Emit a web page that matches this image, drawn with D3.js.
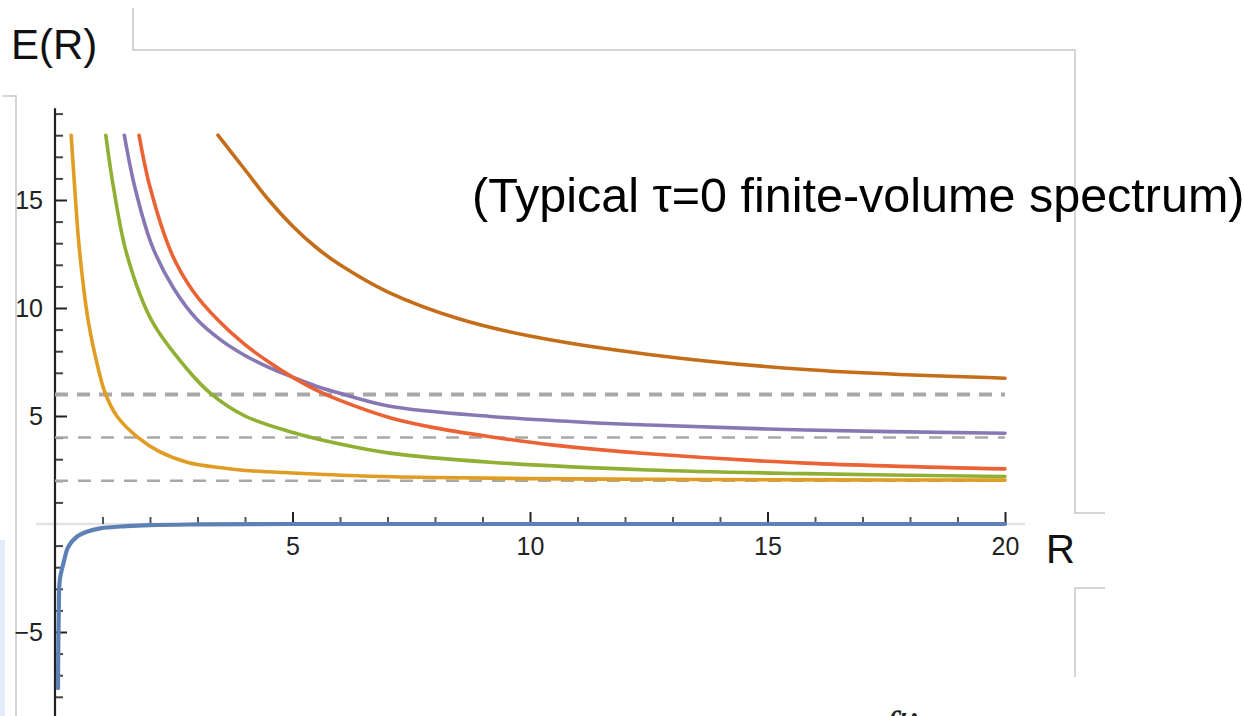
<!DOCTYPE html>
<html>
<head>
<meta charset="utf-8">
<script src="https://cdn.jsdelivr.net/npm/d3@7"></script>
<style>
  body { margin: 0; background: #fff; }
  svg { display: block; }
</style>
</head>
<body>
<svg></svg>
<script>
var screen = {width: 1244, height: 716};

// energy levels E(R) as [R, E]
var level0 = [[0.063,-7.6],[0.07,-5.5],[0.08,-4.1],[0.1,-2.6],[0.18,-1.8],[0.28,-1.05],[0.46,-0.59],[0.67,-0.36],[0.95,-0.2],[1.5,-0.1],[2,-0.05],[3,-0.02],[5,0],[10,0],[20,0]];
var level1 = [[0.34,18],[0.42,15.4],[0.51,12.8],[0.7,9.4],[0.91,7.2],[1.05,6.1],[1.3,5],[1.75,4],[2.2,3.35],[2.8,2.85],[3.5,2.6],[4,2.48],[5,2.36],[6.5,2.22],[8,2.15],[10,2.1],[12.5,2.07],[15,2.05],[17.5,2.04],[20,2.03]];
var level2 = [[1.07,18],[1.23,15.6],[1.51,12.5],[2.04,9.4],[2.77,7.2],[3.3,6],[4,5],[4.95,4.27],[6,3.7],[7.05,3.28],[9.16,2.86],[12.5,2.5],[15.8,2.33],[20,2.2]];
var level3 = [[1.46,18],[1.68,15.6],[2.04,12.9],[2.5,10.9],[3,9.44],[3.5,8.5],[4,7.8],[4.5,7.25],[5,6.8],[5.5,6.38],[6,6.05],[7.05,5.45],[9.16,4.98],[11.3,4.69],[12.5,4.58],[15.8,4.35],[20,4.2]];
var level4 = [[1.77,18],[2,15.6],[2.46,12.5],[2.9,10.8],[3.43,9.44],[4,8.3],[4.5,7.5],[5,6.8],[5.5,6.2],[6,5.72],[7.05,4.92],[8,4.45],[9.16,4.04],[10.5,3.65],[12.5,3.25],[15.8,2.82],[20,2.55]];
var level5 = [[3.43,18],[4,16.4],[4.5,15],[5,13.8],[5.5,12.8],[6,12],[7,10.75],[8.5,9.5],[10,8.7],[12.5,7.85],[15.8,7.15],[20,6.75]];

var levels = [level0, level1, level2, level3, level4, level5];
var levelColors = ["#5E81B5", "#E19C24", "#8FB032", "#8778B3", "#EB6235", "#C56E1A"];

// thresholds drawn dashed
var thresholds = [2, 4, 6];

var xMajor = [5, 10, 15, 20];
var xMinor = [1,2,3,4,6,7,8,9,11,12,13,14,16,17,18,19];
var yMajor = [-5, 5, 10, 15];
var yMinor = [-8,-7,-6,-4,-3,-2,-1,1,2,3,4,6,7,8,9,11,12,13,14,16,17,18,19];

var titleText = "(Typical \u03c4=0 finite-volume spectrum)";

var svg = d3.select("svg")
    .attr("width", screen.width)
    .attr("height", screen.height)

var xScale = d3.scaleLinear().domain([0, 20]).range([55, 1005]);
var yScale = d3.scaleLinear().domain([0, 15]).range([524, 200]);

// slide frame leftovers
var frame = svg.append("g")
    .attr("fill", "none")
    .attr("stroke", "#c8c8c8")
    .attr("stroke-width", 1.5)
frame.append("polyline").attr("points", "133,8 133,50 1075,50 1075,513 1105,513")
frame.append("polyline").attr("points", "1105,588 1075,588 1075,677")
frame.append("polyline").attr("points", "3,96 16,96 16,716")
svg.append("rect")
    .attr("x", 0).attr("y", 540).attr("width", 5).attr("height", 176)
    .attr("fill", "#e3ecf8")

// zero line
svg.append("line")
    .attr("x1", 36).attr("x2", 1025)
    .attr("y1", yScale(0)).attr("y2", yScale(0))
    .attr("stroke", "#e2e2e2")
    .attr("stroke-width", 2.5)

// x axis ticks (pointing up)
var xAxisMinor = d3.axisBottom(xScale).tickValues(xMinor).tickSize(-7).tickFormat("")
var xAxisMajor = d3.axisBottom(xScale).tickValues(xMajor).tickSize(-12).tickPadding(13)

svg.append("g")
    .attr("transform", "translate(0," + yScale(0) + ")")
    .call(xAxisMinor)
    .call(function(g) { g.select(".domain").remove() })
    .selectAll("line").attr("stroke", "#555").attr("stroke-width", 2)

var gx = svg.append("g")
    .attr("transform", "translate(0," + yScale(0) + ")")
    .call(xAxisMajor)
gx.select(".domain").remove()
gx.selectAll("line").attr("stroke", "#222").attr("stroke-width", 2)
gx.selectAll("text")
    .attr("fill", "#222")
    .style("font-family", "'Liberation Sans', Arial, sans-serif")
    .style("font-size", "25px")

// y axis, ticks pointing right, labels left
var yAxisMinor = d3.axisLeft(yScale).tickValues(yMinor).tickSize(-8).tickFormat("")
var yAxisMajor = d3.axisLeft(yScale).tickValues(yMajor).tickSize(-12).tickPadding(12)

svg.append("g")
    .attr("transform", "translate(" + xScale(0) + ",0)")
    .call(yAxisMinor)
    .call(function(g) { g.select(".domain").remove() })
    .selectAll("line").attr("stroke", "#444").attr("stroke-width", 2)

var gy = svg.append("g")
    .attr("transform", "translate(" + xScale(0) + ",0)")
    .call(yAxisMajor)
gy.select(".domain").remove()
gy.selectAll("line").attr("stroke", "#222").attr("stroke-width", 2)
gy.selectAll("text")
    .attr("fill", "#222")
    .style("font-family", "'Liberation Sans', Arial, sans-serif")
    .style("font-size", "25px")

svg.append("line")
    .attr("x1", xScale(0)).attr("x2", xScale(0))
    .attr("y1", yScale(19.25)).attr("y2", screen.height)
    .attr("stroke", "#222")
    .attr("stroke-width", 2.2)

// dashed thresholds
svg.append("g")
    .selectAll("line")
    .data(thresholds)
    .enter()
    .append("line")
    .attr("x1", xScale(0)).attr("x2", xScale(20))
    .attr("y1", function(d) { return yScale(d) })
    .attr("y2", function(d) { return yScale(d) })
    .attr("stroke", "#a8a8a8")
    .attr("stroke-width", function(d) { return d == 6 ? 4 : 2.5 })
    .attr("stroke-dasharray", function(d) { return d == 6 ? "13,9" : "13,10" })

var lineGenerator = d3.line()
    .x(function(d) { return xScale(d[0]) })
    .y(function(d) { return yScale(d[1]) })
    .curve(d3.curveCatmullRom.alpha(0.5))

svg.append("g")
    .attr("fill", "none")
    .attr("stroke-linecap", "round")
    .selectAll("path")
    .data(levels)
    .enter()
    .append("path")
    .attr("d", lineGenerator)
    .attr("stroke", function(d, i) { return levelColors[i] })
    .attr("stroke-width", function(d, i) { return i == 0 ? 4.2 : 3.6 })

// labels
svg.append("text")
    .attr("x", 11).attr("y", 59)
    .style("font-family", "'Liberation Sans', Arial, sans-serif")
    .style("font-size", "42px")
    .attr("fill", "#111")
    .text("E(R)")

svg.append("text")
    .attr("x", 1046).attr("y", 563)
    .style("font-family", "'Liberation Sans', Arial, sans-serif")
    .style("font-size", "40px")
    .attr("fill", "#111")
    .text("R")

svg.append("text")
    .attr("x", 472).attr("y", 212)
    .style("font-family", "'Liberation Sans', Arial, sans-serif")
    .style("font-size", "48.5px")
    .attr("fill", "#000")
    .text(titleText)

// cut-off caption at bottom edge
svg.append("text")
    .attr("x", 884).attr("y", 742)
    .style("font-family", "'Liberation Serif', serif")
    .style("font-style", "italic")
    .style("font-size", "44px")
    .attr("fill", "#222")
    .text("f\u2032i \u03c3")
</script>
</body>
</html>
